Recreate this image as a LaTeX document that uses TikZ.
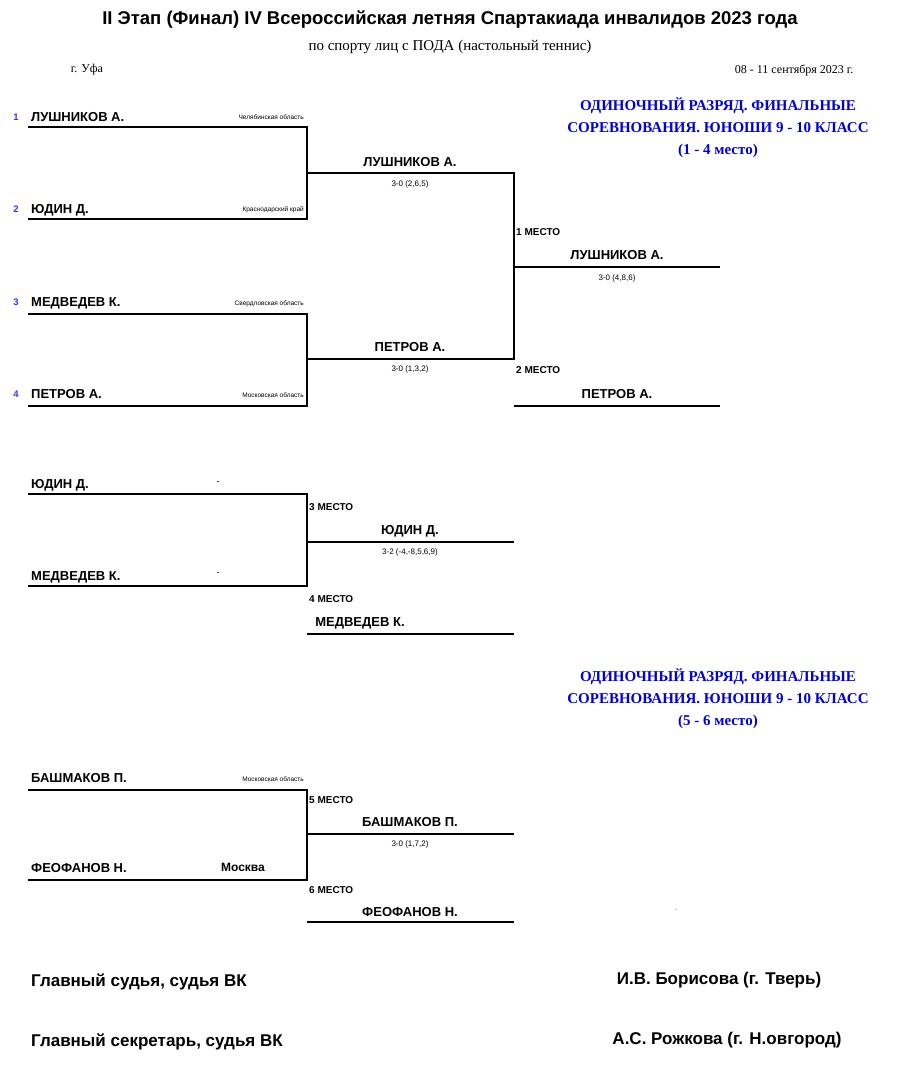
\documentclass[tikz,border=0pt]{standalone}
\usepackage{fontspec}
\setmainfont{Liberation Sans}
\newfontfamily\serif{Liberation Serif}
\begin{document}
\begin{tikzpicture}[x=1pt,y=-1pt,
  ln/.style={line width=2.4pt},
  nm/.style={font=\bfseries\fontsize{13}{13}\selectfont,inner sep=0pt,anchor=base west},
  wn/.style={font=\bfseries\fontsize{13}{13}\selectfont,inner sep=0pt,anchor=base},
  rg/.style={font=\fontsize{6.5}{6.5}\selectfont,inner sep=0pt,anchor=base east},
  sc/.style={font=\fontsize{8}{8}\selectfont,inner sep=0pt},
  sd/.style={font=\bfseries\fontsize{9.5}{9.5}\selectfont,text=blue!80,inner sep=0pt,anchor=base},
  pl/.style={font=\bfseries\fontsize{10}{10}\selectfont,inner sep=0pt,anchor=base west},
  hd/.style={font=\serif\bfseries\fontsize{15}{22}\selectfont,text=blue!85!black,align=center},
  ft/.style={font=\bfseries\fontsize{17}{17}\selectfont,inner sep=0pt}]
\useasboundingbox (0,0) rectangle (900,1074);
\node[font=\bfseries\fontsize{18.5}{18.5}\selectfont] (t1) at (450,20) {II Этап (Финал) IV Всероссийская летняя Спартакиада инвалидов 2023 года};
\node[font=\serif\fontsize{15}{15}\selectfont] (t2) at (450,47) {по спорту лиц с ПОДА (настольный теннис)};
\node[font=\serif\fontsize{12}{12}\selectfont] (t3) at (87,70) {г. Уфа};
\node[font=\serif\fontsize{12}{12}\selectfont,anchor=east] (t4) at (857,70) {08 - 11 сентября 2023 г.};
\node[hd] (h1) at (718,128) {ОДИНОЧНЫЙ РАЗРЯД. ФИНАЛЬНЫЕ\\СОРЕВНОВАНИЯ. ЮНОШИ 9 - 10 КЛАСС\\(1 - 4 место)};
\node[hd] (h2) at (718,699) {ОДИНОЧНЫЙ РАЗРЯД. ФИНАЛЬНЫЕ\\СОРЕВНОВАНИЯ. ЮНОШИ 9 - 10 КЛАСС\\(5 - 6 место)};
% round 1
\draw[ln] (28,127) -- (307,127) -- (307,219) -- (28,219);
\draw[ln] (28,314) -- (307,314) -- (307,406) -- (28,406);
\draw[ln] (307,173) -- (514,173) -- (514,359) -- (307,359);
\draw[ln] (514,267) -- (720,267);
\draw[ln] (514,406) -- (720,406);
\node[sd] (s1) at (16,120) {1};
\node[sd] (s2) at (16,212) {2};
\node[sd] (s3) at (16,305) {3};
\node[sd] (s4) at (16,397) {4};
\node[nm] (n1) at (31,121) {ЛУШНИКОВ А.};
\node[nm] (n2) at (31,213) {ЮДИН Д.};
\node[nm] (n3) at (31,306) {МЕДВЕДЕВ К.};
\node[nm] (n4) at (31,398) {ПЕТРОВ А.};
\node[rg] (r1) at (304,119) {Челябинская область};
\node[rg] (r2) at (304,211) {Краснодарский край};
\node[rg] (r3) at (304,305) {Свердловская область};
\node[rg] (r4) at (304,397) {Московская область};
\node[wn] (w1) at (410,166) {ЛУШНИКОВ А.};
\node[sc] (c1) at (410,184) {3-0 (2,6,5)};
\node[wn] (w2) at (410,351) {ПЕТРОВ А.};
\node[sc] (c2) at (410,369) {3-0 (1,3,2)};
\node[pl] (p1) at (516,235) {1 МЕСТО};
\node[wn] (w3) at (617,259) {ЛУШНИКОВ А.};
\node[sc] (c3) at (617,278) {3-0 (4,8,6)};
\node[pl] (p2) at (516,373) {2 МЕСТО};
\node[wn] (w4) at (617,398) {ПЕТРОВ А.};
% 3-4
\draw[ln] (28,494) -- (307,494) -- (307,586) -- (28,586);
\draw[ln] (307,542) -- (514,542);
\draw[ln] (307,634) -- (514,634);
\node[nm] (n5) at (31,488) {ЮДИН Д.};
\node[nm] (n6) at (31,580) {МЕДВЕДЕВ К.};
\node[font=\fontsize{9}{9}\selectfont] (d1) at (218,483) {-};
\node[font=\fontsize{9}{9}\selectfont] (d2) at (218,574) {-};
\node[pl] (p3) at (309,510) {3 МЕСТО};
\node[wn] (w5) at (410,534) {ЮДИН Д.};
\node[sc] (c4) at (410,552) {3-2 (-4,-8,5,6,9)};
\node[pl] (p4) at (309,602) {4 МЕСТО};
\node[wn] (w6) at (360,626) {МЕДВЕДЕВ К.};
% 5-6
\draw[ln] (28,790) -- (307,790) -- (307,880) -- (28,880);
\draw[ln] (307,834) -- (514,834);
\draw[ln] (307,922) -- (514,922);
\node[nm] (n7) at (31,782) {БАШМАКОВ П.};
\node[nm] (n8) at (31,872) {ФЕОФАНОВ Н.};
\node[rg] (r5) at (304,781) {Московская область};
\node[font=\bfseries\fontsize{12}{12}\selectfont,inner sep=0pt,anchor=base] (r6) at (243,871) {Москва};
\node[pl] (p5) at (309,803) {5 МЕСТО};
\node[wn] (w7) at (410,826) {БАШМАКОВ П.};
\node[sc] (c5) at (410,844) {3-0 (1,7,2)};
\node[pl] (p6) at (309,893) {6 МЕСТО};
\node[wn] (w8) at (410,916) {ФЕОФАНОВ Н.};
\node[text=red,font=\fontsize{6}{6}\selectfont] (rd) at (676,911) {-};
% footer
\node[ft,anchor=west] (f1) at (31,982) {Главный судья, судья ВК};
\node[ft] (f2) at (719,980) {И.В. Борисова (г. Тверь)};
\node[ft,anchor=west] (f3) at (31,1042) {Главный секретарь, судья ВК};
\node[ft] (f4) at (727,1040) {А.С. Рожкова (г. Н.овгород)};
\end{tikzpicture}
\end{document}
